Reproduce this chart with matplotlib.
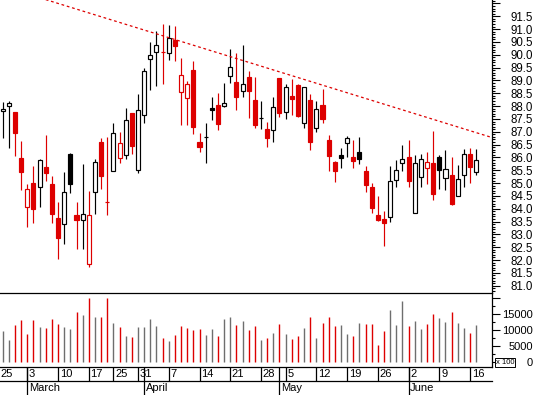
import numpy as np
import matplotlib.pyplot as plt
from matplotlib.patches import Rectangle
from matplotlib.ticker import MultipleLocator

plt.rcParams['font.family'] = ['Liberation Sans', 'DejaVu Sans']

# daily bars, 26 Feb - 17 Jun (one entry per trading day)
opens = [87.80, 87.99, 87.77, 85.98, 84.06, 84.99, 84.84, 85.63, 84.96, 83.64,
         83.39, 86.13, 83.76, 83.55, 81.83, 84.64, 86.60, 84.25, 85.46, 85.97,
         86.08, 87.72, 85.51, 87.65, 89.85, 90.12, 90.10, 90.06, 90.58, 88.54,
         88.33, 89.41, 86.61, 86.78, 87.93, 88.04, 88.00, 89.16, 88.94, 88.59,
         89.12, 88.24, 87.52, 87.11, 87.06, 89.08, 87.76, 88.39, 88.82, 87.33,
         88.24, 87.14, 88.04, 86.67, 85.84, 86.10, 86.57, 86.02, 86.22, 85.47,
         84.85, 83.76, 83.60, 83.67, 85.11, 85.79, 86.03, 83.82, 85.23, 85.57,
         85.79, 86.02, 85.19, 85.32, 84.51, 85.32, 86.13, 85.44]
highs = [88.17, 88.20, 87.77, 86.64, 84.95, 85.67, 85.94, 86.87, 85.28, 84.26,
         85.43, 86.18, 84.26, 85.74, 84.69, 85.93, 86.77, 86.80, 87.33, 86.98,
         87.94, 87.73, 88.49, 89.50, 90.49, 90.93, 91.20, 91.16, 91.12, 89.87,
         88.98, 89.76, 86.95, 87.35, 88.36, 88.51, 88.91, 90.23, 90.08, 90.38,
         89.37, 89.13, 88.20, 87.38, 88.36, 89.10, 88.86, 89.06, 88.88, 88.73,
         88.46, 88.20, 88.67, 86.87, 85.85, 86.36, 86.83, 86.68, 86.81, 85.67,
         85.00, 84.50, 83.92, 85.67, 85.90, 86.50, 86.68, 86.10, 86.14, 86.22,
         87.03, 86.10, 86.29, 86.02, 85.70, 86.31, 86.36, 86.31]
lows = [86.75, 86.36, 86.07, 84.73, 83.30, 83.43, 84.06, 85.09, 83.46, 82.05,
        82.61, 84.60, 82.42, 82.44, 81.72, 83.81, 84.78, 83.77, 85.46, 85.79,
        85.92, 86.12, 85.41, 87.35, 88.63, 88.80, 88.85, 89.80, 89.76, 87.26,
        87.26, 86.91, 86.22, 85.79, 87.46, 87.07, 87.95, 88.91, 87.85, 88.37,
        87.55, 87.16, 87.11, 86.42, 86.61, 87.56, 87.49, 87.65, 87.56, 87.16,
        86.29, 86.98, 87.33, 85.47, 85.05, 85.58, 86.02, 85.60, 85.74, 84.66,
        83.85, 83.52, 82.55, 83.50, 84.86, 85.48, 84.86, 83.82, 84.83, 84.95,
        84.34, 84.77, 84.73, 84.14, 84.50, 84.86, 85.01, 85.33]
closes = [87.88, 88.11, 86.96, 85.44, 84.76, 84.00, 85.89, 85.40, 83.81, 82.87,
          84.64, 84.98, 83.57, 83.78, 83.74, 85.81, 85.29, 84.25, 86.94, 86.55,
          87.46, 86.46, 87.84, 89.36, 89.98, 90.37, 90.10, 90.64, 90.35, 89.20,
          88.88, 87.20, 86.42, 86.78, 87.86, 87.30, 88.13, 89.54, 88.37, 88.87,
          88.60, 87.26, 87.52, 86.77, 87.95, 87.74, 88.76, 88.29, 87.63, 88.73,
          86.61, 87.87, 87.51, 86.07, 85.47, 85.96, 86.76, 85.88, 85.92, 84.94,
          84.01, 83.56, 83.46, 85.09, 85.51, 85.94, 85.10, 85.79, 85.93, 85.81,
          84.59, 85.51, 85.54, 84.20, 85.14, 86.14, 85.64, 85.90]
volumes = [9780, 6875, 11660, 13125, 8850, 13125, 11040, 10730, 13440, 11980,
           11040, 10420, 15625, 14790, 20100, 14170, 14170, 20100, 12290, 11040,
           8230, 7920, 11040, 11040, 13540, 11350, 7600, 6670, 8540, 11350,
           10730, 10100, 10420, 8540, 10420, 8230, 13540, 14170, 11660, 12920,
           10100, 11350, 6980, 7600, 9170, 11980, 8850, 7190, 8230, 10730,
           14170, 7600, 12290, 14170, 11350, 11660, 8850, 8230, 12290, 11980,
           11980, 5420, 9780, 16350, 11660, 19170, 11350, 12920, 10420, 11980,
           15100, 13850, 12600, 15730, 12290, 10730, 9170, 11660]

day_ticks = [-1, 4, 9, 14, 18, 22, 27, 32, 37, 42, 46, 51, 56, 61, 66, 71, 76]
day_labels = ['25', '3', '10', '17', '25', '31', '7', '14', '21', '28',
              '5', '12', '19', '26', '2', '9', '16']
month_starts = [4, 23, 45, 66]
month_labels = ['March', 'April', 'May', 'June']

trend_x = [7, 79.5]
trend_y = [92.15, 86.78]

RED = '#dd0000'
GREY = '#6e6e6e'
W, H = 537, 395


def box(x0, y0, x1, y1):
    return [x0 / W, 1 - y1 / H, (x1 - x0) / W, (y1 - y0) / H]


fig = plt.figure(figsize=(W / 100, H / 100), dpi=100)
ax = fig.add_axes(box(0, 0, 491.5, 292.5))
axv = fig.add_axes(box(0, 292.5, 491.5, 367.3))
axd = fig.add_axes(box(0, 367.3, 491.5, 395))

xlim = (-0.44, 79.48)
idx = np.arange(len(closes))
up = [True] + [closes[i] >= closes[i - 1] for i in range(1, len(closes))]
cols = ['black' if u else RED for u in up]

# candles
bw = 0.66
for i in idx:
    c = cols[i]
    ax.vlines(i, lows[i], highs[i], color=c, lw=0.85, zorder=2)
    o, cl = opens[i], closes[i]
    face = c if cl < o else 'white'
    ax.add_patch(Rectangle((i - bw / 2, min(o, cl)), bw, abs(cl - o),
                           facecolor=face, edgecolor=c, lw=0.85, zorder=3))

ax.plot(trend_x, trend_y, color=RED, lw=0.9, ls=(0, (2.2, 2.2)), zorder=4)

ax.set_xlim(*xlim)
ax.set_ylim(80.736, 92.135)
ax.yaxis.tick_right()
ticks = np.arange(81.0, 92.01, 0.5)
ax.set_yticks(ticks)
ax.set_yticklabels(['%.1f' % t if t < 91.9 else '' for t in ticks])
ax.yaxis.set_minor_locator(MultipleLocator(0.1))
ax.tick_params(axis='y', which='major', length=5.5, width=0.8, pad=24.4,
               labelsize=8.3)
ax.tick_params(axis='y', which='minor', length=2.4, width=0.8)
for lbl in ax.get_yticklabels():
    lbl.set_horizontalalignment('right')
ax.set_xticks([])
for s in ['top', 'left', 'bottom']:
    ax.spines[s].set_visible(False)
ax.spines['right'].set_linewidth(0.9)

# volume
axv.vlines(idx, 0, volumes, colors=[GREY if u else RED for u in up], lw=1.0)
axv.set_xlim(*xlim)
axv.set_ylim(-1656, 21720)
axv.yaxis.tick_right()
vt = [0, 5000, 10000, 15000, 20000]
axv.set_yticks(vt)
axv.set_yticklabels(['0', '5000', '10000', '15000', ''])
axv.yaxis.set_minor_locator(MultipleLocator(2500))
axv.tick_params(axis='y', which='major', length=5.5, width=0.8, pad=24.4,
                labelsize=8)
axv.tick_params(axis='y', which='minor', length=2.4, width=0.8)
for lbl in axv.get_yticklabels():
    lbl.set_horizontalalignment('right')
axv.set_xticks([])
axv.spines['left'].set_visible(False)
for s in ['top', 'bottom', 'right']:
    axv.spines[s].set_linewidth(0.9)
fig.text(496 / W, 1 - 362.3 / H, 'x 100', fontsize=5.5, va='center', ha='left',
         bbox=dict(boxstyle='square,pad=0.12', fc='white', ec='black', lw=0.7))

# date rows
mid = (395 - 380.7) / 27.7
axd.set_xlim(*xlim)
axd.set_ylim(0, 1)
axd.axis('off')
axd.plot(xlim, [mid, mid], color='black', lw=0.9, clip_on=False)
axd.vlines(day_ticks, mid, 1, color='black', lw=0.9)
axd.vlines(month_starts, 0, 1, color='black', lw=0.9)
for t, lab in zip(day_ticks, day_labels):
    axd.text(max(t + 0.27, -0.42), (1 + mid) / 2, lab, fontsize=8,
             va='center', ha='left')
for t, lab in zip(month_starts, month_labels):
    axd.text(t + 0.22, mid / 2, lab, fontsize=8, va='center', ha='left')

fig.savefig('out.png', dpi=100)
